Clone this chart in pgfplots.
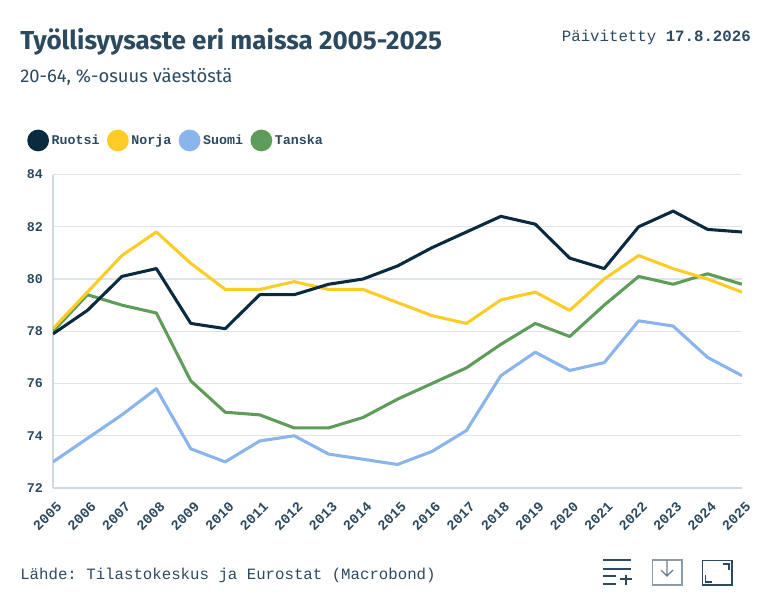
\documentclass[border=0pt]{standalone}
\usepackage{pgfplots}
\pgfplotsset{compat=1.18}
\usepackage{fontspec}
\setmainfont{Fira Sans}
\setmonofont{Liberation Mono}
\definecolor{ruotsi}{HTML}{0A2A3F}
\definecolor{norja}{HTML}{FFCB27}
\definecolor{suomi}{HTML}{8AB4EC}
\definecolor{tanska}{HTML}{5E9C5A}
\definecolor{txt}{HTML}{2C4A5F}
\definecolor{gridc}{HTML}{DEE4E8}
\definecolor{axisc}{HTML}{D0D8E2}
\begin{document}
\begin{tikzpicture}
\path[use as bounding box] (0pt,0pt) rectangle (582.75pt,-455.25pt);
\begin{axis}[
	at={(39.75pt,-366pt)}, anchor=south west,
	scale only axis,
	width=516.75pt, height=235.1pt,
	xmin=2005, xmax=2025, ymin=72, ymax=84,
	xtick={2005,2006,...,2025},
	ytick={72,74,...,84},
	tick label style={font=\ttfamily\bfseries\fontsize{10}{12}\selectfont, text=txt},
	x tick label style={/pgf/number format/1000 sep={}, rotate=45, anchor=north east, xshift=-2pt, yshift=-5pt,
		font=\ttfamily\bfseries\fontsize{10.5}{12}\selectfont},
	/pgf/number format/assume math mode=true,
	/pgf/number format/1000 sep={},
	ymajorgrids, major grid style={gridc, line width=1pt},
	axis line style={axisc, line width=1pt},
	axis x line*=bottom, axis y line*=left,
	major tick length=0pt,
	y tick label style={xshift=-4pt},
	legend style={at={(-19.5pt,269pt)}, anchor=north west, draw=none, fill=none, legend columns=-1,
		font=\ttfamily\bfseries\fontsize{10}{12}\selectfont, text=txt,
		/tikz/every even column/.style={column sep=3.5pt}, inner sep=0pt},
	legend image code/.code={\fill[#1] (0pt,0pt) circle (7pt);},
	legend cell align=left,
	reverse legend,
	every axis plot/.append style={line width=2.3pt, line join=round, mark=none},
]
% piirtojarjestys: Ruotsi paalimmaisena
\addplot[color=tanska] coordinates {(2005,78.0)(2006,79.4)(2007,79.0)(2008,78.7)(2009,76.1)(2010,74.9)(2011,74.8)(2012,74.3)(2013,74.3)(2014,74.7)(2015,75.4)(2016,76.0)(2017,76.6)(2018,77.5)(2019,78.3)(2020,77.8)(2021,79.0)(2022,80.1)(2023,79.8)(2024,80.2)(2025,79.8)};
\addplot[color=suomi] coordinates {(2005,73.0)(2006,73.9)(2007,74.8)(2008,75.8)(2009,73.5)(2010,73.0)(2011,73.8)(2012,74.0)(2013,73.3)(2014,73.1)(2015,72.9)(2016,73.4)(2017,74.2)(2018,76.3)(2019,77.2)(2020,76.5)(2021,76.8)(2022,78.4)(2023,78.2)(2024,77.0)(2025,76.3)};
\addplot[color=norja] coordinates {(2005,78.1)(2006,79.5)(2007,80.9)(2008,81.8)(2009,80.6)(2010,79.6)(2011,79.6)(2012,79.9)(2013,79.6)(2014,79.6)(2015,79.1)(2016,78.6)(2017,78.3)(2018,79.2)(2019,79.5)(2020,78.8)(2021,80.0)(2022,80.9)(2023,80.4)(2024,80.0)(2025,79.5)};
\addplot[color=ruotsi] coordinates {(2005,77.9)(2006,78.8)(2007,80.1)(2008,80.4)(2009,78.3)(2010,78.1)(2011,79.4)(2012,79.4)(2013,79.8)(2014,80.0)(2015,80.5)(2016,81.2)(2017,81.8)(2018,82.4)(2019,82.1)(2020,80.8)(2021,80.4)(2022,82.0)(2023,82.6)(2024,81.9)(2025,81.8)};
\legend{Tanska,Suomi,Norja,Ruotsi}
\end{axis}
\begin{scope}[x=0.75pt,y=-0.75pt]
\node[anchor=base west, inner sep=0pt, text=txt] at (20,49) {\fontsize{19.5}{22}\selectfont\bfseries Työllisyysaste eri maissa 2005-2025};
\node[anchor=base west, inner sep=0pt, text=txt] at (20,82) {\fontsize{13.8}{16}\selectfont 20-64, \%-osuus väestöstä};
\node[anchor=base east, inner sep=0pt, text=txt] at (751,41) {\ttfamily\fontsize{11.8}{14}\selectfont Päivitetty \textbf{17.8.2026}};
\node[anchor=base west, inner sep=0pt, text=txt] at (20,579) {\ttfamily\fontsize{11.8}{14}\selectfont Lähde: Tilastokeskus ja Eurostat (Macrobond)};
% ikonit
\begin{scope}[draw=txt, line width=0.9pt]
\draw (603,560)--(631,560) (603,569)--(631,569) (603,576)--(616,576) (603,584)--(616,584) (620,579)--(632,579) (626,574.5)--(626,585);
\draw[draw=txt!55] (652.5,584)--(652.5,560)--(682,560)--(682,584);
\draw[draw=txt!55, line width=1.5pt] (652,584.5)--(682.5,584.5);
\draw[draw=txt!70] (667,560)--(667,576) (661,570)--(667,576)--(673,570);
\draw (702.5,560.5) rectangle (732,585);
\draw (723,564)--(729,564)--(729,570) (705.5,575)--(705.5,582)--(712,582);
\end{scope}
\end{scope}
\end{tikzpicture}
\end{document}
